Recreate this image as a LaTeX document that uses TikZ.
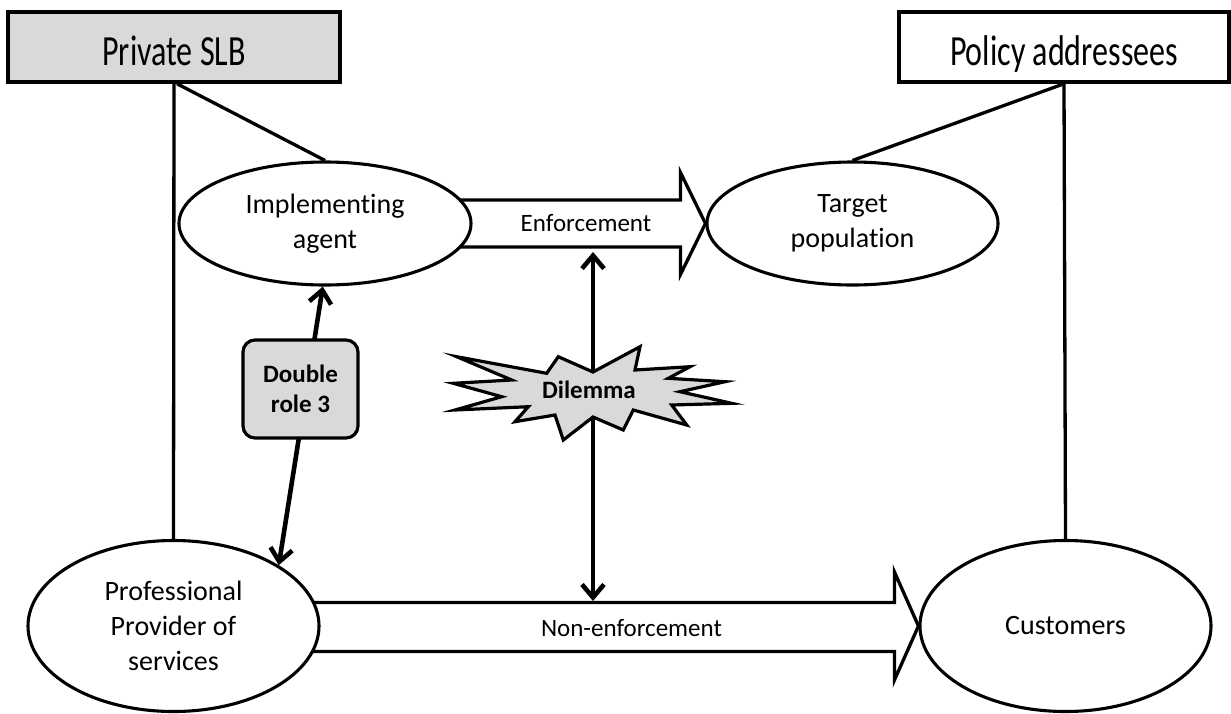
\documentclass[tikz,border=0pt]{standalone}
\usepackage{fontspec}
\setmainfont{Carlito}[Ligatures=CommonOff]
\usepackage{graphicx}
\usetikzlibrary{shapes.geometric,arrows.meta,calc}
\definecolor{lg}{HTML}{D9D9D9}
\pgfdeclarelayer{bg}
\pgfsetlayers{bg,main}
\begin{document}
\begin{tikzpicture}[x=1pt,y=-1pt,
  ln/.style={line width=3.3pt},
  ell/.style={ellipse,draw,line width=3.1pt,fill=white,inner sep=0pt,align=center,
    font=\fontsize{28}{35}\selectfont},
  topbox/.style={rectangle,draw,line width=3.5pt,minimum height=70pt,inner sep=0pt,
    text height=36pt,text depth=0pt},
  blk/.style={draw,fill=white,line width=3.3pt,line join=miter},
  dbl/.style={line width=4.6pt,{Straight Barb[length=13pt,width=22pt]}-{Straight Barb[length=13pt,width=22pt]}},
  lbl/.style={font=\fontsize{25}{30}\selectfont,inner sep=0pt},
  bold/.style={font=\fontsize{25}{30}\selectfont\bfseries,align=center}
]
\useasboundingbox (0,0) rectangle (1231,713);

% top boxes
\node[topbox,fill=lg,minimum width=332pt] (slb) at (174,47)
  {\scalebox{0.745}[1]{\fontsize{43}{50}\selectfont Private SLB}};
\node[topbox,fill=white,minimum width=330pt] (pol) at (1064,47)
  {\scalebox{0.745}[1]{\fontsize{43}{50}\selectfont Policy addressees}};

% ellipses
\node[ell,minimum width=292pt,minimum height=123pt] (impl) at (325,223.5) {Implementing\\agent};
\node[ell,minimum width=291pt,minimum height=123pt] (target) at (852.5,223.5) {Target\\population};
\node[ell,minimum width=291pt,minimum height=171pt] (prof) at (173.5,626) {Professional\\Provider of\\services};
\node[ell,minimum width=291pt,minimum height=171pt] (cust) at (1065.5,626) {Customers};

% connectors from boxes
\draw[ln] (slb.south) -- (prof.north);
\draw[ln] ($(slb.south)+(3,0)$) -- (impl.north);
\draw[ln] (pol.south) -- (cust.north);
\draw[ln] (pol.south) -- (target.north);

% block arrows
\begin{pgfonlayer}{bg}
\draw[blk] ($(impl.center)+(0,-23.5)$) -- ($(target.west)+(-25,-23.5)$)
  -- ($(target.west)+(-25,-51)$) -- (target.west) -- ($(target.west)+(-25,51)$)
  -- ($(target.west)+(-25,23.5)$) -- ($(impl.center)+(0,23.5)$) -- cycle;
\draw[blk] ($(prof.center)+(0,-23.5)$) -- ($(cust.west)+(-24,-23.5)$)
  -- ($(cust.west)+(-24,-54)$) -- (cust.west) -- ($(cust.west)+(-24,54)$)
  -- ($(cust.west)+(-24,25.5)$) -- ($(prof.center)+(0,25.5)$) -- cycle;
\end{pgfonlayer}
\node[lbl] (enf) at ($(impl.east)!0.487!(target.west)$) {Enforcement};
\node[lbl] (nonenf) at ($(prof.east)!0.52!(cust.west)+(0,2)$) {Non-enforcement};

% dilemma arrow and star
\coordinate (dtop) at (593,252);
\coordinate (dbot) at (593,601);
\draw[dbl] (dtop) -- (dbot);
\draw[line width=3.2pt,fill=lg,line join=miter]
  (456.7,356.7) -- (546.7,373.3) -- (558.3,356.7) -- (593,372) -- (640,346.7)
  -- (635,370) -- (690,366.7) -- (668.3,378.3) -- (725,381.7) -- (680,391.7)
  -- (731.7,403.3) -- (671.7,405) -- (686.7,425) -- (633.3,410) -- (623.3,430)
  -- (593,417) -- (563.3,440) -- (555,415) -- (515,421.7) -- (528.3,406.7)
  -- (455,410) -- (501.7,396.7) -- (453.3,383.3) -- (511.7,380) -- cycle;
\node[bold,inner sep=0pt] (dil) at (589,390) {Dilemma};

% double role
\draw[dbl] (prof.30.5) -- (impl.-92);
\node[bold,draw,line width=3.2pt,fill=lg,rounded corners=12pt,minimum width=115pt,
  minimum height=98pt,inner sep=0pt] (dr) at (300.5,389) {Double\\role 3};
\end{tikzpicture}
\end{document}
